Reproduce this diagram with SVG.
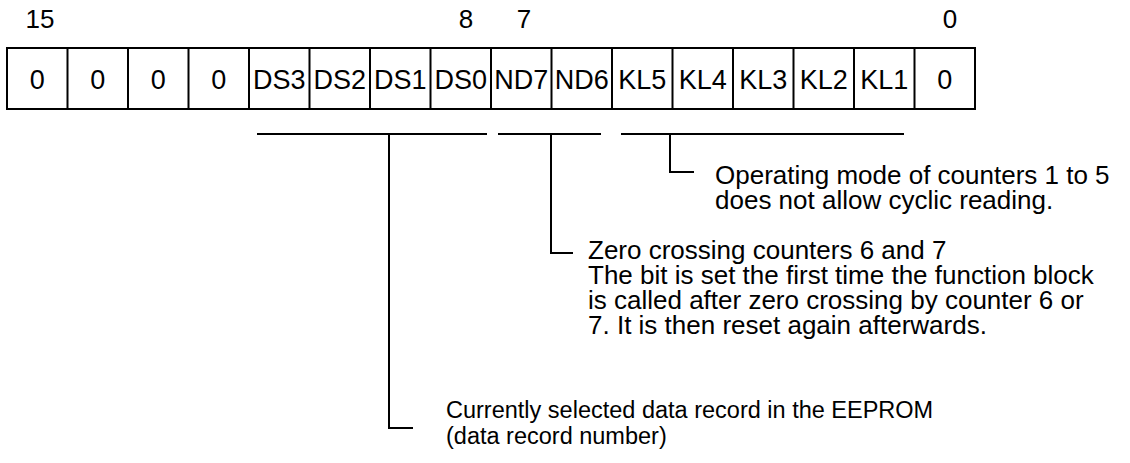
<svg xmlns="http://www.w3.org/2000/svg" width="1130" height="463" viewBox="0 0 1130 463">
<style>
text{font-family:"Liberation Sans",Arial,sans-serif;fill:#000}
.c{font-size:27px;text-anchor:middle}
.n{font-size:26px;text-anchor:middle}
.d{font-size:26px}
.e{font-size:23.5px}
.cell{fill:#fff;stroke:#000;stroke-width:2}
.ln{fill:none;stroke:#000;stroke-width:2}
</style>
<rect width="1130" height="463" fill="#fff"/>
<g id="bitnumbers">
<text class="n" x="40" y="28">15</text>
<text class="n" x="466" y="28">8</text>
<text class="n" x="524" y="28">7</text>
<text class="n" x="950" y="28">0</text>
</g>
<g id="register">
<rect class="cell" x="7" y="48" width="968" height="61"/>
<path class="ln" d="M67.5 48V109M128 48V109M188.5 48V109M249 48V109M309.5 48V109M370 48V109M430.5 48V109M491 48V109M551.5 48V109M612 48V109M672.5 48V109M733 48V109M793.5 48V109M854 48V109M914.5 48V109"/>
<text class="c" x="37.25" y="88.5">0</text>
<text class="c" x="97.75" y="88.5">0</text>
<text class="c" x="158.25" y="88.5">0</text>
<text class="c" x="218.75" y="88.5">0</text>
<text class="c" x="279.25" y="88.5">DS3</text>
<text class="c" x="339.75" y="88.5">DS2</text>
<text class="c" x="400.25" y="88.5">DS1</text>
<text class="c" x="460.75" y="88.5">DS0</text>
<text class="c" x="521.25" y="88.5">ND7</text>
<text class="c" x="581.75" y="88.5">ND6</text>
<text class="c" x="642.25" y="88.5">KL5</text>
<text class="c" x="702.75" y="88.5">KL4</text>
<text class="c" x="763.25" y="88.5">KL3</text>
<text class="c" x="823.75" y="88.5">KL2</text>
<text class="c" x="884.25" y="88.5">KL1</text>
<text class="c" x="944.75" y="88.5">0</text>
</g>
<g id="connectors">
<path class="ln" d="M257 134H487M389 134V428H413"/>
<path class="ln" d="M498 134H601M551 134V253H573"/>
<path class="ln" d="M621 134H904M670 134V172H694"/>
</g>
<g id="note-kl">
<text class="d" x="715" y="184">Operating mode of counters 1 to 5</text>
<text class="d" x="715" y="209">does not allow cyclic reading.</text>
</g>
<g id="note-nd">
<text class="d" x="588" y="259">Zero crossing counters 6 and 7</text>
<text class="d" x="588" y="284">The bit is set the first time the function block</text>
<text class="d" x="588" y="309">is called after zero crossing by counter 6 or</text>
<text class="d" x="588" y="334">7. It is then reset again afterwards.</text>
</g>
<g id="note-ds">
<text class="e" x="446" y="418">Currently selected data record in the EEPROM</text>
<text class="e" x="446" y="444">(data record number)</text>
</g>
</svg>
